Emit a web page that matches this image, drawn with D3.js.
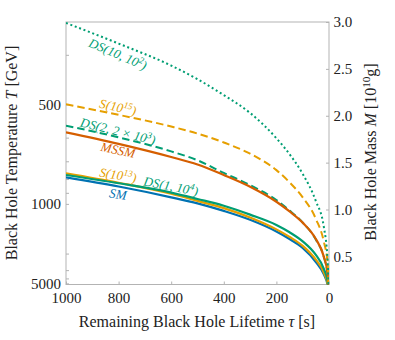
<!DOCTYPE html>
<html>
<head>
<meta charset="UTF-8">
<script src="https://d3js.org/d3.v7.min.js"></script>
<style>
  body { margin: 0; background: #fff; }
  svg text { font-family: "Liberation Serif", "DejaVu Serif", serif; }
</style>
</head>
<body>
<svg width="395" height="340"></svg>
<script>
// remaining lifetime (s) where the curves were read
const tau = [1000, 800, 600, 500, 400, 300, 200, 150, 100, 50, 20, 5, 0];

// black hole mass in 10^10 g, one array per model
const massSM    = [1.343, 1.245, 1.130, 1.066, 0.985, 0.890, 0.765, 0.685, 0.590, 0.440, 0.310, 0.190, 0];
const massS13   = [1.386, 1.285, 1.168, 1.092, 1.015, 0.915, 0.788, 0.708, 0.612, 0.465, 0.330, 0.200, 0];
const massDS1   = [1.368, 1.280, 1.180, 1.112, 1.040, 0.945, 0.835, 0.757, 0.660, 0.515, 0.370, 0.230, 0];
const massMSSM  = [1.823, 1.700, 1.560, 1.480, 1.368, 1.243, 1.083, 0.980, 0.860, 0.685, 0.500, 0.310, 0];
const massDS2   = [1.894, 1.770, 1.620, 1.525, 1.390, 1.261, 1.101, 0.990, 0.860, 0.680, 0.495, 0.305, 0];
const massS15   = [2.122, 2.010, 1.885, 1.810, 1.715, 1.595, 1.420, 1.290, 1.130, 0.900, 0.660, 0.420, 0];
const massDS10  = [2.990, 2.770, 2.535, 2.390, 2.220, 2.030, 1.760, 1.590, 1.380, 1.090, 0.820, 0.440, 0];

// axis ticks
const tauTicks = [1000, 800, 600, 400, 200, 0];
const massTicks = [0.5, 1.0, 1.5, 2.0, 2.5, 3.0];
const tempTicks = [400, 500, 600, 700, 800, 900, 1000, 2000, 3000, 4000, 5000];
const tempLabels = [500, 1000, 5000];
const hawkingC = 1060; // T [GeV] * M [10^10 g]

const svg = d3.select("svg");
const plotL = 66, plotR = 329, plotT = 22, plotB = 284.5;

const x = d3.scaleLinear().domain([1000, 0]).range([plotL, plotR]);
const y = d3.scaleLinear().domain([0.2, 3.0]).range([plotB, plotT]);

const green = "#009E73", orange = "#E69F00", red = "#D55E00", blue = "#0072B2";
const serif = "Liberation Serif, DejaVu Serif, serif";

svg.append("clipPath").attr("id", "plot")
  .append("rect").attr("x", plotL).attr("y", plotT)
  .attr("width", plotR - plotL).attr("height", plotB - plotT);

// frame
svg.append("rect")
  .attr("x", plotL).attr("y", plotT)
  .attr("width", plotR - plotL).attr("height", plotB - plotT)
  .attr("fill", "none").attr("stroke", "#b3b3b3").attr("stroke-width", 1);

function styleAxis(g) {
  g.attr("font-family", serif);
  g.select(".domain").remove();
  g.selectAll(".tick line").attr("stroke", "#b3b3b3");
  g.selectAll(".tick text").attr("fill", "#222").attr("font-size", "15px");
}

svg.append("g")
  .attr("transform", `translate(0,${plotB})`)
  .call(d3.axisBottom(x).tickValues(tauTicks).tickFormat(d3.format("d"))
    .tickSizeInner(-3).tickSizeOuter(0).tickPadding(7.5))
  .call(styleAxis);

svg.append("g")
  .attr("transform", `translate(${plotR},0)`)
  .call(d3.axisRight(y).tickValues(massTicks).tickFormat(d3.format(".1f"))
    .tickSizeInner(-3).tickSizeOuter(0).tickPadding(4.5))
  .call(styleAxis);

svg.append("g")
  .attr("transform", `translate(${plotL},0)`)
  .call(d3.axisLeft(y).tickValues(tempTicks.map(t => hawkingC / t))
    .tickFormat(m => {
      const t = Math.round(hawkingC / m);
      return tempLabels.includes(t) ? t : "";
    })
    .tickSizeInner(-3).tickSizeOuter(0).tickPadding(5))
  .call(styleAxis);

// curves
const series = [
  { m: massSM,   color: blue,   dash: null },
  { m: massS13,  color: orange, dash: null },
  { m: massDS1,  color: green,  dash: null },
  { m: massDS2,  color: green,  dash: "7.5 4" },
  { m: massMSSM, color: red,    dash: null },
  { m: massS15,  color: orange, dash: "7.5 4" },
  { m: massDS10, color: green,  dash: "2 2.7" }
];

const line = d3.line()
  .x(d => x(d[0])).y(d => y(d[1]))
  .curve(d3.curveMonotoneX);

const curves = svg.append("g").attr("clip-path", "url(#plot)");
series.forEach(s => {
  curves.append("path")
    .datum(tau.map((t, i) => [t, s.m[i]]))
    .attr("d", line)
    .attr("fill", "none")
    .attr("stroke", s.color)
    .attr("stroke-width", s.dash ? 2 : 2.2)
    .attr("stroke-dasharray", s.dash);
});

// text with ^{..} superscripts and *..* italics
function richText(sel, str, size) {
  sel.attr("font-family", serif);
  const parts = str.split(/(\^\{[^}]*\}|\*[^*]*\*)/).filter(p => p.length);
  let shift = 0;
  parts.forEach(p => {
    let ts;
    if (p.startsWith("^{")) {
      ts = sel.append("tspan").attr("font-size", size * 0.7 + "px").text(p.slice(2, -1));
      ts.attr("dy", -size * 0.38);
      shift = size * 0.38;
      return;
    }
    ts = sel.append("tspan").text(p);
    if (p.startsWith("*")) ts.attr("font-style", "italic").text(p.slice(1, -1));
    if (shift) { ts.attr("dy", shift); shift = 0; }
  });
}

// curve labels
const labels = [
  { text: "DS(10, 10^{2})",        x: 118, y: 54,  a: 23, color: green },
  { text: "S(10^{15})",            x: 118, y: 107, a: 12, color: orange },
  { text: "DS(2, 2 × 10^{3})",     x: 118, y: 131, a: 14, color: green },
  { text: "MSSM",                  x: 118, y: 150, a: 12, color: red },
  { text: "S(10^{13})",            x: 118, y: 175, a: 9,  color: orange },
  { text: "DS(1, 10^{4})",         x: 171, y: 186, a: 11, color: green },
  { text: "SM",                    x: 118, y: 194, a: 8,  color: blue }
];
labels.forEach(l => {
  const t = svg.append("text")
    .attr("transform", `translate(${l.x},${l.y}) rotate(${l.a})`)
    .attr("text-anchor", "middle").attr("dy", "0.35em")
    .attr("font-size", "13px").attr("font-style", "italic")
    .attr("fill", l.color);
  richText(t, l.text + ")".slice(1), 13);
});

// axis titles
const bt = svg.append("text").attr("x", 197).attr("y", 327)
  .attr("text-anchor", "middle").attr("font-size", "16px").attr("fill", "#222");
richText(bt, "Remaining Black Hole Lifetime *τ* [s]", 16);

const lt = svg.append("text").attr("transform", "translate(17,153) rotate(-90)")
  .attr("text-anchor", "middle").attr("font-size", "16px").attr("fill", "#222");
richText(lt, "Black Hole Temperature *T* [GeV]", 16);

const rt = svg.append("text").attr("transform", "translate(376,152) rotate(-90)")
  .attr("text-anchor", "middle").attr("font-size", "16px").attr("fill", "#222");
richText(rt, "Black Hole Mass *M* [10^{10}g]", 16);
</script>
</body>
</html>
